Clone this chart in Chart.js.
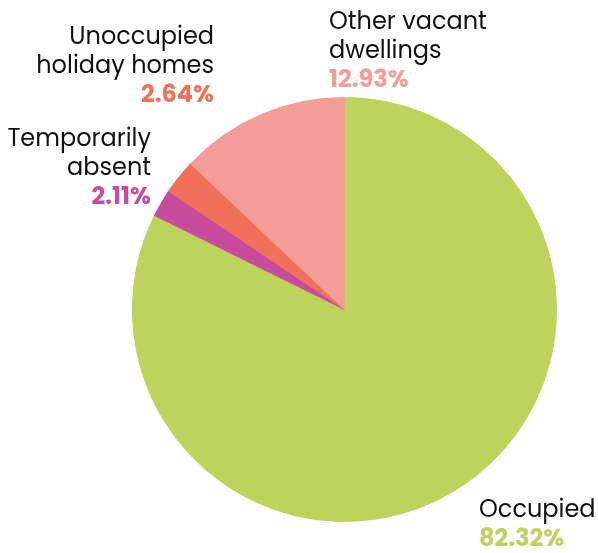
<!DOCTYPE html>
<html>
<head>
<meta charset="utf-8">
<script src="https://cdn.jsdelivr.net/npm/chart.js@4"></script>
<style>
  html, body { margin: 0; padding: 0; background: #fff; }
  #wrap { width: 598px; height: 553px; position: relative; }
</style>
</head>
<body>
<div id="wrap"><canvas id="canvas"></canvas></div>
<script>
const categories = ['Occupied', 'Temporarily absent', 'Unoccupied holiday homes', 'Other vacant dwellings'];
const shares = [82.32, 2.11, 2.64, 12.93];
const colors = ['#bdd35c', '#c84c9c', '#f0705a', '#f49d98'];

// label lines and where they sit
const labelLines = [['Occupied'], ['Temporarily', 'absent'], ['Unoccupied', 'holiday homes'], ['Other vacant', 'dwellings']];
const labelPos = [
    { x: 479, y: 511, align: 'left' },
    { x: 151, y: 140, align: 'right' },
    { x: 214, y: 38, align: 'right' },
    { x: 329, y: 23, align: 'left' },
];

const FONT = 'Poppins, Inter, "Noto Sans", sans-serif';

const drawLabels = {
    id: 'drawLabels',
    afterDraw(chart) {
        const ctx = chart.ctx;
        ctx.save();
        ctx.textBaseline = 'middle';
        categories.forEach((cat, i) => {
            const p = labelPos[i];
            ctx.textAlign = p.align;
            let y = p.y;
            ctx.fillStyle = '#111';
            ctx.font = '400 24px ' + FONT;
            labelLines[i].forEach(line => {
                ctx.fillText(line, p.x, y);
                y += 29;
            });
            ctx.fillStyle = colors[i];
            ctx.font = '700 24px ' + FONT;
            ctx.fillText(shares[i].toFixed(2) + '%', p.x, y);
        });
        ctx.restore();
    }
};

const chart = new Chart(document.getElementById('canvas'), {
    type: 'pie',
    data: {
        labels: categories,
        datasets: [{
            data: shares,
            backgroundColor: colors,
            borderColor: colors,
            borderWidth: 1,
        }]
    },
    plugins: [drawLabels],
    options: {
        responsive: true,
        maintainAspectRatio: false,
        animation: false,
        layout: {
            padding: { top: 97, bottom: 31, left: 132, right: 41 }
        },
        plugins: {
            legend: { display: false },
            tooltip: { enabled: false },
        },
    },
});
</script>
</body>
</html>
